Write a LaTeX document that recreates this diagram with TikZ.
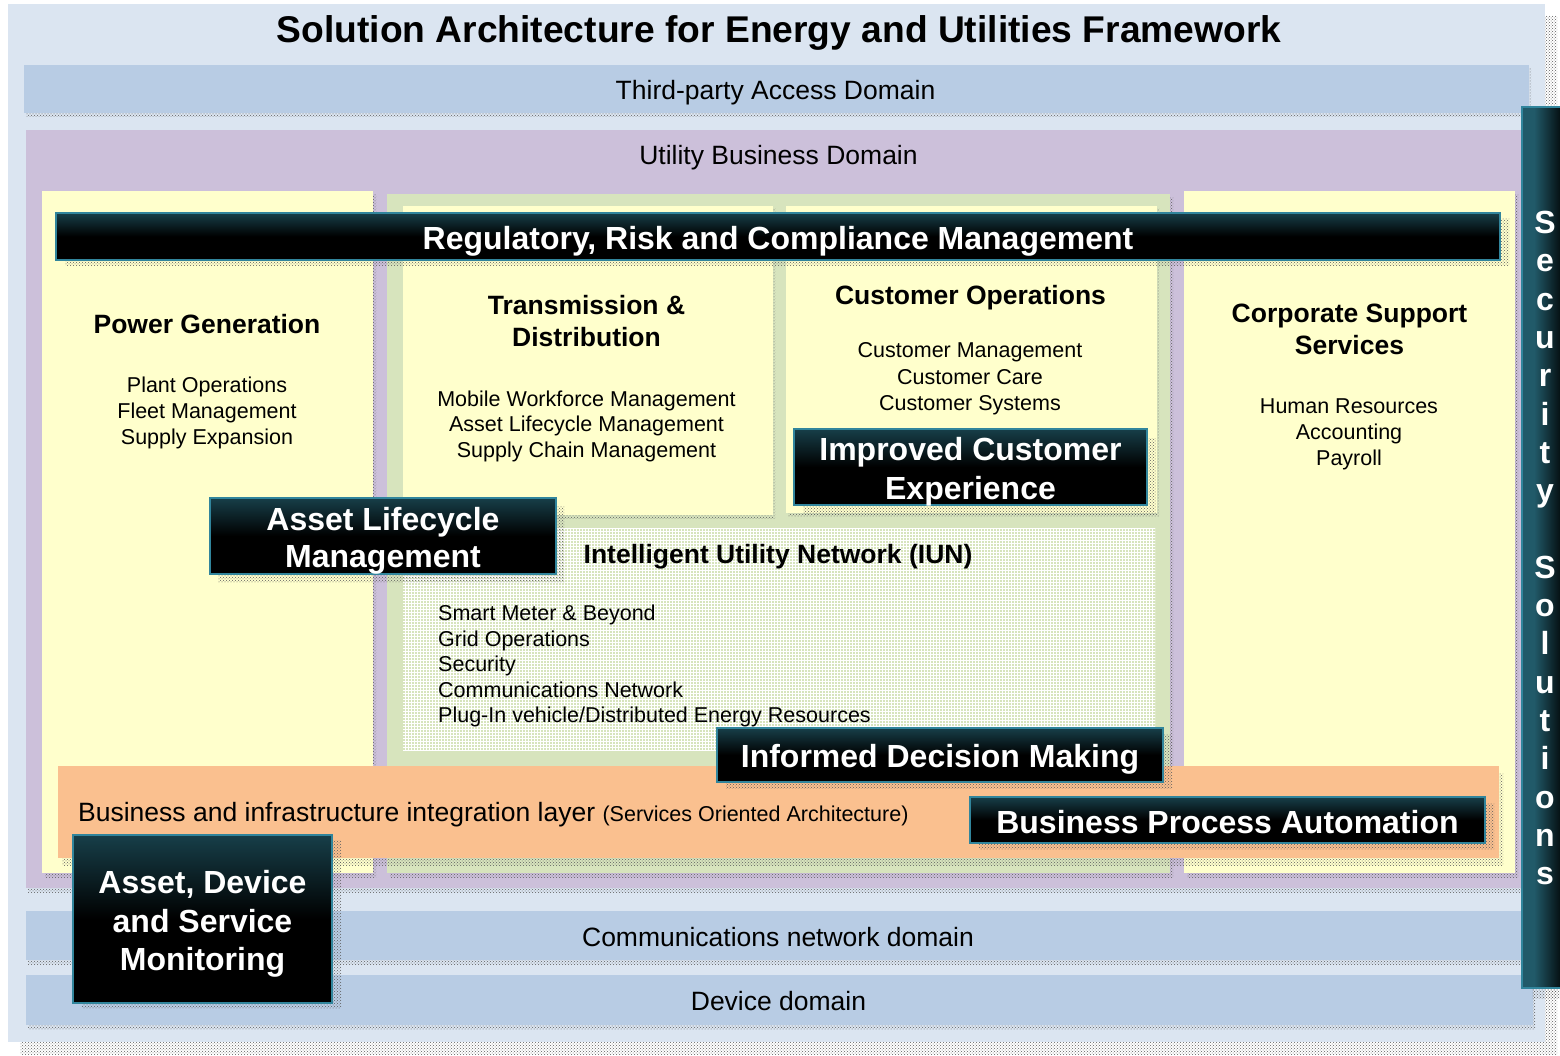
\documentclass[tikz,border=0pt]{standalone}
\usepackage{fontspec}
\setmainfont{Liberation Sans}
\usetikzlibrary{patterns}
\definecolor{outerbg}{HTML}{DBE5F1}
\definecolor{bluebar}{HTML}{B8CCE4}
\definecolor{purplebg}{HTML}{CCC0DA}
\definecolor{yellowbg}{HTML}{FFFFCC}
\definecolor{greenbg}{HTML}{D7E4BD}
\definecolor{orangebg}{HTML}{FAC08F}
\definecolor{tealtop}{HTML}{215A69}
\definecolor{tealedge}{HTML}{31859C}
\definecolor{shadowcol}{HTML}{5E5E5E}
\pgfdeclareverticalshading{darkgrad}{100bp}{color(0bp)=(black); color(50bp)=(black); color(86bp)=(tealtop); color(100bp)=(tealtop)}
\pgfdeclarehorizontalshading{secgrad}{100bp}{color(0bp)=(tealtop); color(40bp)=(tealtop); color(80bp)=(black); color(100bp)=(black)}
\tikzset{
  shadowxy/.style 2 args={preaction={pattern=crosshatch dots, pattern color=shadowcol, transform canvas={shift={(#1,#2)}}}},
  darkbox/.style={shading=darkgrad, draw=tealedge, line width=1.2pt},
  titletext/.style={font=\fontsize{37.2}{45}\selectfont\bfseries, anchor=base, inner sep=0pt},
  domtext/.style={font=\fontsize{26.5}{31}\selectfont, anchor=base, inner sep=0pt},
  headtext/.style={font=\fontsize{26.5}{31}\selectfont\bfseries, anchor=base, inner sep=0pt},
  bodytext/.style={font=\fontsize{21.5}{25.5}\selectfont, anchor=base, inner sep=0pt},
  whitetext/.style={font=\fontsize{32}{38}\selectfont\bfseries, text=white, anchor=base, inner sep=0pt},
}
\begin{document}
\begin{tikzpicture}[x=1pt,y=-1pt]
\useasboundingbox (0,0) rectangle (1560,1056);
% outer frame
\fill[outerbg, shadowxy={12}{12}] (8,4) rectangle (1545,1042);
\node[titletext] (title) at (779,43) {Solution Architecture for Energy and Utilities Framework};
% third-party access domain
\fill[bluebar, shadowxy={2}{4}] (24,65) rectangle (1529,113);
\node[domtext] (tpa) at (775.5,100) {Third-party Access Domain};
% utility business domain
\fill[purplebg, shadowxy={2}{4}] (26,130) rectangle (1522,888);
\node[domtext] (ubd) at (778.5,165) {Utility Business Domain};
% power generation
\fill[yellowbg, shadowxy={3}{4}] (42,191) rectangle (373,873);
\node[headtext] (pgh) at (207,334) {Power Generation};
\node[bodytext] (pg1) at (207,392) {Plant Operations};
\node[bodytext] (pg2) at (207,418) {Fleet Management};
\node[bodytext] (pg3) at (207,444) {Supply Expansion};
% central green
\fill[greenbg, shadowxy={3}{4}] (387,194) rectangle (1170,873);
% transmission & distribution
\fill[yellowbg, shadowxy={2}{3}] (403,206) rectangle (773,515);
\node[headtext] (tdh1) at (586.5,315) {Transmission \&};
\node[headtext] (tdh2) at (586.5,347) {Distribution};
\node[bodytext] (td1) at (586.5,406) {Mobile Workforce Management};
\node[bodytext] (td2) at (586.5,431) {Asset Lifecycle Management};
\node[bodytext] (td3) at (586.5,457) {Supply Chain Management};
% customer operations
\fill[yellowbg, shadowxy={2}{3}] (786,206) rectangle (1157,513);
\node[headtext] (coh) at (970.5,305) {Customer Operations};
\node[bodytext] (co1) at (970,358) {Customer Management};
\node[bodytext] (co2) at (970,384) {Customer Care};
\node[bodytext] (co3) at (970,410) {Customer Systems};
% intelligent utility network
\path[fill=greenbg, postaction={pattern=grid, pattern color=white}] (403,528) rectangle (1155,750);
\node[headtext] (iunh) at (778,563) {Intelligent Utility Network (IUN)};
\node[bodytext, anchor=base west] (iun1) at (438,620) {Smart Meter \& Beyond};
\node[bodytext, anchor=base west] (iun2) at (438,646) {Grid Operations};
\node[bodytext, anchor=base west] (iun3) at (438,671) {Security};
\node[bodytext, anchor=base west] (iun4) at (438,697) {Communications Network};
\node[bodytext, anchor=base west] (iun5) at (438,722) {Plug-In vehicle/Distributed Energy Resources};
% corporate support services
\fill[yellowbg, shadowxy={3}{4}] (1184,191) rectangle (1515,873);
\node[headtext] (csh1) at (1349.5,323) {Corporate Support};
\node[headtext] (csh2) at (1349.5,355) {Services};
\node[bodytext] (cs1) at (1349,413) {Human Resources};
\node[bodytext] (cs2) at (1349,439) {Accounting};
\node[bodytext] (cs3) at (1349,465) {Payroll};
% regulatory bar
\path[darkbox, shadowxy={9}{6}] (56,213) rectangle (1500,260);
\node[whitetext] (reg) at (778,250) {Regulatory, Risk and Compliance Management};
% integration layer
\fill[orangebg, shadowxy={4}{7}] (58,766) rectangle (1499,858);
\node[domtext, anchor=base west] (bil) at (78,821) {Business and infrastructure integration layer {\fontsize{21.5}{25}\selectfont (Services Oriented Architecture)}};
% communications and device domains
\fill[bluebar, shadowxy={2}{4}] (26,911) rectangle (1522,960);
\node[domtext] (cnd) at (778,946) {Communications network domain};
\fill[bluebar, shadowxy={2}{4}] (26,975) rectangle (1533,1025);
\node[domtext] (dd) at (778.5,1010) {Device domain};
% dark highlight boxes
\path[darkbox, shadowxy={8}{8}] (210,498) rectangle (556,574);
\node[whitetext] (alm1) at (383,530) {Asset Lifecycle};
\node[whitetext] (alm2) at (383,567) {Management};
\path[darkbox, shadowxy={9}{9}] (794,429) rectangle (1147,505);
\node[whitetext] (ice1) at (970.5,460) {Improved Customer};
\node[whitetext] (ice2) at (970.5,499) {Experience};
\path[darkbox, shadowxy={9}{6}] (717,728) rectangle (1163,782);
\node[whitetext] (idm) at (940,767) {Informed Decision Making};
\path[darkbox, shadowxy={9}{6}] (970,797) rectangle (1485,843);
\node[whitetext] (bpa) at (1227.5,833) {Business Process Automation};
\path[darkbox, shadowxy={9}{5}] (73,835) rectangle (332,1003);
\node[whitetext] (adm1) at (202.5,893) {Asset, Device};
\node[whitetext] (adm2) at (202.5,932) {and Service};
\node[whitetext] (adm3) at (202.5,970) {Monitoring};
% security solutions bar
\path[shading=secgrad, draw=tealedge, line width=1.2pt, shadowxy={10}{10}] (1522,107) rectangle (1562,988);
\foreach \ch [count=\i from 0] in {S,e,c,u,r,i,t,y}
  \node[whitetext] (secA\i) at (1545,233.5+38.3*\i) {\ch};
\foreach \ch [count=\i from 9] in {S,o,l,u,t,i,o,n,s}
  \node[whitetext] (secB\i) at (1545,233.5+38.3*\i) {\ch};
\end{tikzpicture}
\end{document}
